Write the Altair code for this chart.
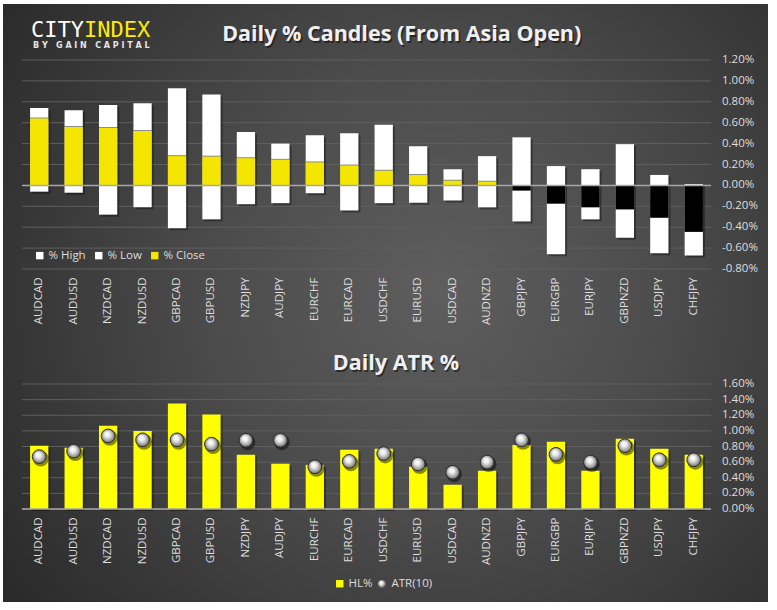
import altair as alt
import pandas as pd

pairs = ["AUDCAD", "AUDUSD", "NZDCAD", "NZDUSD", "GBPCAD", "GBPUSD", "NZDJPY", "AUDJPY",
         "EURCHF", "EURCAD", "USDCHF", "EURUSD", "USDCAD", "AUDNZD", "GBPJPY", "EURGBP",
         "EURJPY", "GBPNZD", "USDJPY", "CHFJPY"]
pct_high = [0.74, 0.72, 0.77, 0.785, 0.93, 0.87, 0.51, 0.40, 0.48, 0.50,
            0.58, 0.375, 0.155, 0.28, 0.46, 0.185, 0.155, 0.395, 0.10, 0.012]
pct_low = [-0.06, -0.07, -0.28, -0.21, -0.41, -0.325, -0.18, -0.17, -0.075, -0.24,
           -0.17, -0.165, -0.145, -0.21, -0.345, -0.66, -0.325, -0.50, -0.65, -0.67]
pct_close = [0.64, 0.56, 0.55, 0.52, 0.28, 0.275, 0.26, 0.245, 0.22, 0.19,
             0.14, 0.10, 0.045, 0.035, -0.05, -0.175, -0.21, -0.23, -0.31, -0.445]
hl_pct = [0.81, 0.785, 1.065, 1.00, 1.35, 1.21, 0.695, 0.58, 0.565, 0.76,
          0.77, 0.54, 0.31, 0.49, 0.82, 0.86, 0.49, 0.90, 0.77, 0.695]
atr10 = [0.67, 0.74, 0.935, 0.885, 0.885, 0.83, 0.88, 0.88, 0.54, 0.61,
         0.71, 0.575, 0.47, 0.60, 0.885, 0.70, 0.60, 0.81, 0.63, 0.63]
top_ticks = [-0.8, -0.6, -0.4, -0.2, 0.0, 0.2, 0.4, 0.6, 0.8, 1.0, 1.2]
bottom_ticks = [0.0, 0.2, 0.4, 0.6, 0.8, 1.0, 1.2, 1.4, 1.6]
top_title = "Daily % Candles (From Asia Open)"
bottom_title = "Daily ATR %"

FONT = "Open Sans"
LBL = "#dedede"
GRID = "#5f5f5f"
ZERO = "#a6a6a6"
YELLOW_TOP = "#f5e600"
YELLOW = "#ffff00"
LFS = 11.5
PCT_EXPR = "(datum.tick < 0 ? '-' : '') + format(abs(datum.tick), '.2f') + '%'"

hl_df = pd.DataFrame({
    "pair": pairs * 2,
    "series": ["% High"] * len(pairs) + ["% Low"] * len(pairs),
    "value": pct_high + pct_low,
})
close_df = pd.DataFrame({"pair": pairs, "series": ["% Close"] * len(pairs), "value": pct_close})
hlp_df = pd.DataFrame({"pair": pairs, "series": ["HL%"] * len(pairs), "value": hl_pct})
atr_df = pd.DataFrame({"pair": pairs, "series": ["ATR(10)"] * len(pairs), "value": atr10})
one = pd.DataFrame({"k": [0]})

W = 689
PANEL_W = 765


def radial_bg(top_abs, height):
    # circular background glow, centred on the whole panel
    cx, cy, R = 440.0, 290.0, 520.0
    return {"gradient": "radial",
            "x1": (cx - 3) / PANEL_W, "y1": 0.5 + (cy - (top_abs + height / 2)) / PANEL_W, "r1": 0,
            "x2": (cx - 3) / PANEL_W, "y2": 0.5 + (cy - (top_abs + height / 2)) / PANEL_W,
            "r2": R / PANEL_W,
            "stops": [{"offset": 0.0, "color": "#5e5e5e"},
                      {"offset": 0.45, "color": "#4b4b4b"},
                      {"offset": 1.0, "color": "#2b2b2b"}]}


x_axis = alt.Axis(title=None, labelAngle=270, labelFont=FONT, labelFontSize=LFS,
                  labelColor=LBL, ticks=False, domain=False, labelPadding=8,
                  grid=False, zindex=1)


def x_enc():
    return alt.X("pair:N", sort=pairs,
                 scale=alt.Scale(paddingInner=0.47, paddingOuter=0.235), axis=x_axis)


def title_layers(text, x, y):
    df = pd.DataFrame({"t": [text]})
    shadow = alt.Chart(df).mark_text(font=FONT, fontSize=21.5, fontWeight="bold",
                                     color="#000000", opacity=0.45, align="center",
                                     baseline="alphabetic", dx=1.5, dy=1.5).encode(
        text="t:N", x=alt.value(x), y=alt.value(y))
    txt = alt.Chart(df).mark_text(font=FONT, fontSize=21.5, fontWeight="bold",
                                  color="#f0f0f0", align="center", baseline="alphabetic").encode(
        text="t:N", x=alt.value(x), y=alt.value(y))
    return [shadow, txt]


def tick_layers(ticks, scale):
    df = pd.DataFrame({"tick": ticks})
    grid = alt.Chart(df).mark_rule(color=GRID, strokeWidth=1).encode(
        y=alt.Y("tick:Q", scale=scale, axis=None))
    labels = alt.Chart(df).transform_calculate(label=PCT_EXPR).mark_text(
        font=FONT, fontSize=LFS, color=LBL, align="left", baseline="middle").encode(
        y=alt.Y("tick:Q", scale=scale, axis=None), x=alt.value(W + 11), text="label:N")
    return grid, labels


# ---------------- top chart -----------------
top_scale = alt.Scale(domain=[-0.8, 1.2], nice=False, zero=False)


def y_top():
    return alt.Y("value:Q", stack=None, scale=top_scale, axis=None)


top_color = alt.Scale(domain=["% High", "% Low", "% Close"],
                      range=["#ffffff", "#ffffff", YELLOW_TOP])
top_legend = alt.Legend(orient="none", legendX=12, legendY=189.5, direction="horizontal",
                        title=None, symbolType="square", symbolSize=55, symbolStrokeWidth=0,
                        labelColor=LBL, labelFont=FONT, labelFontSize=LFS, columnPadding=7,
                        labelOffset=3)

bg_top = alt.Chart(one).mark_rect(fill=radial_bg(4, 326)).encode(
    x=alt.value(-19), x2=alt.value(-19 + PANEL_W), y=alt.value(-56), y2=alt.value(270))
grid_top, labels_top = tick_layers(top_ticks, top_scale)
hl_shadow = alt.Chart(hl_df).mark_bar(color="#000000", opacity=0.35, xOffset=2, yOffset=2).encode(
    x=x_enc(), y=y_top(), y2=alt.datum(0))
hl_bars = alt.Chart(hl_df).mark_bar().encode(
    x=x_enc(), y=y_top(), y2=alt.datum(0),
    color=alt.Color("series:N", scale=top_color, legend=top_legend))
close_shadow = alt.Chart(close_df).mark_bar(color="#000000", opacity=0.45, yOffset=-1).encode(
    x=x_enc(), y=y_top(), y2=alt.datum(0))
close_bars = alt.Chart(close_df).mark_bar().encode(
    x=x_enc(), y=y_top(), y2=alt.datum(0),
    color=alt.condition("datum.value < 0", alt.value("#000000"),
                        alt.Color("series:N", scale=top_color, legend=top_legend)))
zero_rule = alt.Chart(one).mark_rule(color=ZERO, strokeWidth=1.5).encode(
    y=alt.Y("k:Q", scale=top_scale, axis=None))

logo_city = alt.Chart(pd.DataFrame({"t": ["CITY"]})).mark_text(
    font="DejaVu Sans Mono", fontSize=22, color="#ffffff", align="left", baseline="alphabetic"
).encode(text="t:N", x=alt.value(9), y=alt.value(-23.5))
logo_index = alt.Chart(pd.DataFrame({"t": ["INDEX"]})).mark_text(
    font="DejaVu Sans Mono", fontSize=22, color="#ffeb00", align="left", baseline="alphabetic"
).encode(text="t:N", x=alt.value(62), y=alt.value(-23.5))
NB = "\u00a0"
sub_text = (NB * 3).join(NB.join(w) for w in ["BY", "GAIN", "CAPITAL"])
logo_sub = alt.Chart(pd.DataFrame({"t": [sub_text]})).mark_text(
    font="DejaVu Sans", fontSize=8, fontWeight="bold", color="#e6e6e6", align="left",
    baseline="alphabetic"
).encode(text="t:N", x=alt.value(11), y=alt.value(-12))

top = alt.layer(bg_top, grid_top, labels_top, hl_shadow, hl_bars, close_shadow, close_bars,
                zero_rule, logo_city, logo_index, logo_sub,
                *title_layers(top_title, 379.7, -18.6)).properties(width=W, height=209)

# ---------------- bottom chart -----------------
bot_scale = alt.Scale(domain=[0, 1.6], nice=False)


def y_bot():
    return alt.Y("value:Q", scale=bot_scale, axis=None)


sphere = {"gradient": "radial", "x1": 0.4, "y1": 0.33, "r1": 0.0,
          "x2": 0.5, "y2": 0.5, "r2": 0.55,
          "stops": [{"offset": 0.0, "color": "#ffffff"},
                    {"offset": 0.35, "color": "#ececec"},
                    {"offset": 0.75, "color": "#9a9a9a"},
                    {"offset": 1.0, "color": "#4e4e4e"}]}

hl_legend = alt.Legend(orient="none", legendX=312, legendY=194, direction="horizontal",
                       title=None, symbolType="square", symbolSize=55, symbolStrokeWidth=0,
                       labelColor=LBL, labelFont=FONT, labelFontSize=LFS, labelOffset=3)
atr_legend = alt.Legend(orient="none", legendX=354, legendY=194, direction="horizontal",
                        title=None, symbolSize=60, symbolStrokeWidth=0,
                        labelColor=LBL, labelFont=FONT, labelFontSize=LFS, labelOffset=4)

bg_bot = alt.Chart(one).mark_rect(fill=radial_bg(330, 272)).encode(
    x=alt.value(-19), x2=alt.value(-19 + PANEL_W), y=alt.value(-54), y2=alt.value(218))
grid_bot, labels_bot = tick_layers(bottom_ticks, bot_scale)
bar_shadow = alt.Chart(hlp_df).mark_bar(color="#000000", opacity=0.35, xOffset=2, yOffset=2).encode(
    x=x_enc(), y=y_bot())
hl_bars2 = alt.Chart(hlp_df).mark_bar().encode(
    x=x_enc(), y=y_bot(),
    color=alt.Color("series:N", scale=alt.Scale(domain=["HL%"], range=[YELLOW]),
                    legend=hl_legend))
zero_bot = alt.Chart(one).mark_rule(color=ZERO, strokeWidth=1.5).encode(
    y=alt.Y("k:Q", scale=bot_scale, axis=None))
pt_shadow = alt.Chart(atr_df).mark_circle(color="#000000", opacity=0.45, size=250,
                                          xOffset=1.5, yOffset=2).encode(
    x=x_enc(), y=y_bot())
pts = alt.Chart(atr_df).mark_point(filled=True, size=190, opacity=1, stroke="#2e2e2e",
                                   strokeWidth=1).encode(
    x=x_enc(), y=y_bot(),
    shape=alt.Shape("series:N", scale=alt.Scale(domain=["ATR(10)"], range=["circle"]),
                    legend=atr_legend),
    fill=alt.value(sphere))

bottom = alt.layer(bg_bot, grid_bot, labels_bot, bar_shadow, hl_bars2, zero_bot, pt_shadow, pts,
                   *title_layers(bottom_title, 374, -13.6)).properties(width=W, height=125)

chart = alt.vconcat(top, bottom, spacing=0).resolve_scale(
    color="independent", shape="independent", x="independent", y="independent"
).resolve_legend(color="independent", shape="independent").properties(
    background="#ffffff",
    padding={"left": 3, "top": 4, "right": 9, "bottom": 8},
).configure_view(stroke=None).configure_concat(spacing=0)

chart.save("out.html", embed_options={"renderer": "svg", "actions": False})
